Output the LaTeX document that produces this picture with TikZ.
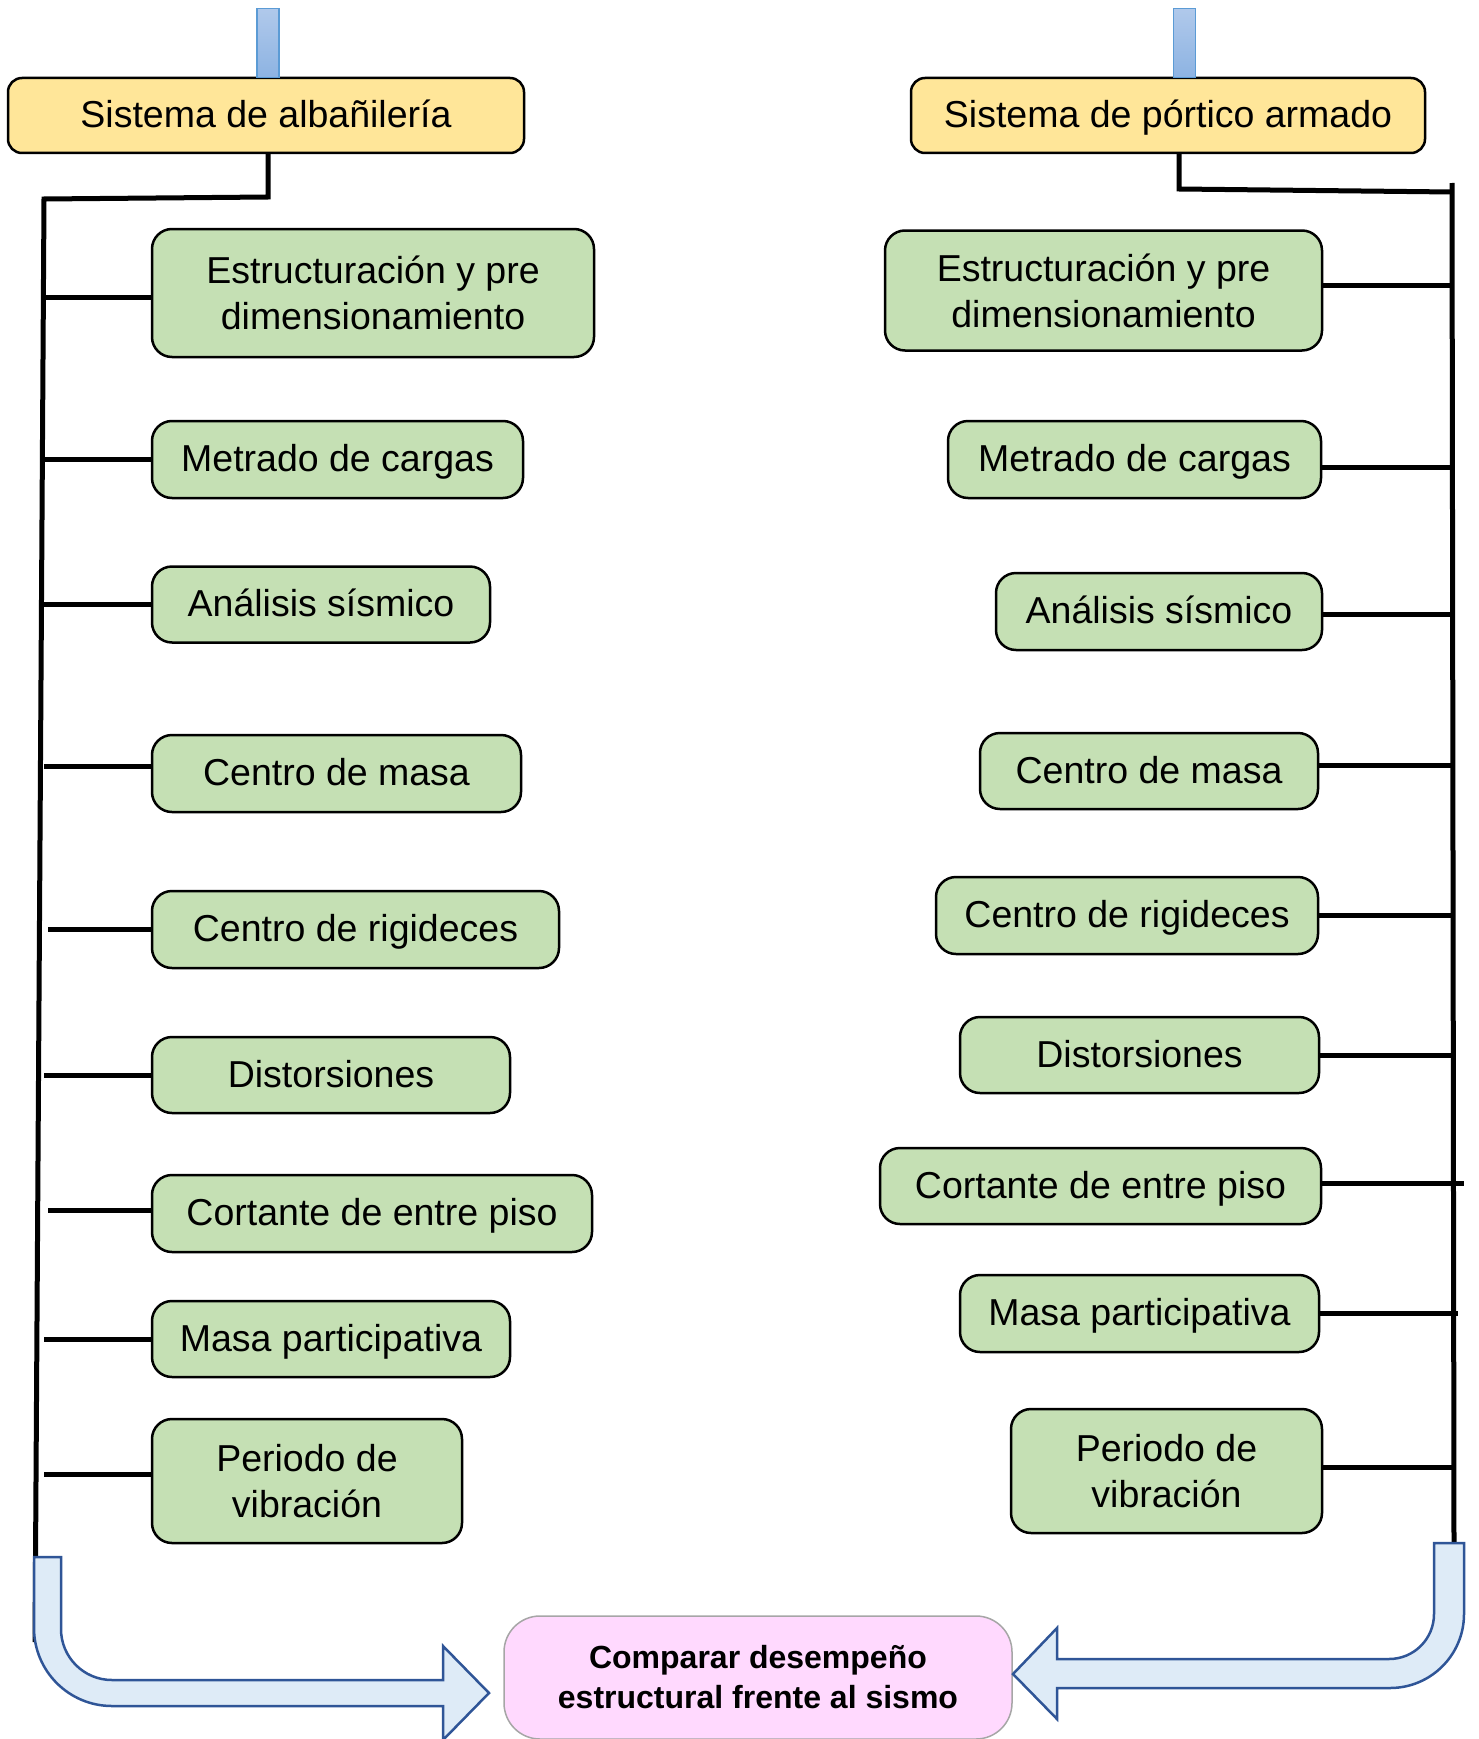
\documentclass[tikz,border=0pt]{standalone}
\usepackage{fontspec}
\setmainfont{Liberation Sans}
\usetikzlibrary{calc}

\definecolor{boxgreen}{HTML}{C5E0B4}
\definecolor{headyellow}{HTML}{FFE699}
\definecolor{goalfill}{HTML}{FFD9FE}
\definecolor{goalborder}{HTML}{A6A6A6}
\definecolor{arrowfill}{HTML}{DEEBF7}
\definecolor{arrowedge}{RGB}{47,85,151}
\definecolor{bartop}{HTML}{B0C9EB}
\definecolor{barbottom}{HTML}{8DB3E2}
\definecolor{barborder}{HTML}{5B9BD5}

\begin{document}
\begin{tikzpicture}[x=1pt,y=-1pt,
  stepbox/.style={draw=black, line width=2.5pt, rounded corners=20pt, fill=boxgreen,
    align=center, inner sep=0pt, font=\fontsize{37.5}{46}\selectfont},
  oneline/.style={text height=31pt, text depth=6.5pt},
  headbox/.style={draw=black, line width=2.5pt, rounded corners=14pt, fill=headyellow,
    align=center, inner sep=0pt, font=\fontsize{37.5}{46}\selectfont, oneline},
  goalbox/.style={draw=goalborder, line width=1.5pt, rounded corners=36pt, fill=goalfill,
    align=center, inner sep=0pt, font=\bfseries\fontsize{32}{40}\selectfont},
  feed/.style={draw=barborder, line width=1.2pt, top color=bartop, bottom color=barbottom,
    inner sep=0pt, anchor=south, minimum width=22pt, minimum height=69pt},
  wire/.style={line width=5pt},
  bent/.style={draw=arrowedge, line width=2.5pt, fill=arrowfill, line join=miter}]

\useasboundingbox (0,0) rectangle (1478,1739);

% ---------- headers ----------
\node[headbox, minimum width=516pt, minimum height=75pt] (yL) at (266,115.5) {Sistema de albañilería};
\node[headbox, minimum width=514pt, minimum height=75pt] (yR) at (1168,115.5) {Sistema de pórtico armado};
\node[feed] (fL) at (268,78) {};
\node[feed] (fR) at (1184.5,78) {};

% ---------- left column ----------
\node[stepbox, minimum width=442pt, minimum height=128pt] (L1) at (373,293) {Estructuración y pre\\dimensionamiento};
\node[stepbox, oneline, minimum width=371pt, minimum height=77pt] (L2) at (337.5,459.5) {Metrado de cargas};
\node[stepbox, oneline, minimum width=338pt, minimum height=76pt] (L3) at (321,604.5) {Análisis sísmico};
\node[stepbox, oneline, minimum width=369pt, minimum height=77pt] (L4) at (336.5,773.5) {Centro de masa};
\node[stepbox, oneline, minimum width=407pt, minimum height=77pt] (L5) at (355.5,929.5) {Centro de rigideces};
\node[stepbox, oneline, minimum width=358pt, minimum height=76pt] (L6) at (331,1075) {Distorsiones};
\node[stepbox, oneline, minimum width=440pt, minimum height=77pt] (L7) at (372,1213.5) {Cortante de entre piso};
\node[stepbox, oneline, minimum width=358pt, minimum height=76pt] (L8) at (331,1339) {Masa participativa};
\node[stepbox, minimum width=310pt, minimum height=124pt] (L9) at (307,1481) {Periodo de\\vibración};

% ---------- right column ----------
\node[stepbox, minimum width=437pt, minimum height=120pt] (R1) at (1103.5,290.5) {Estructuración y pre\\dimensionamiento};
\node[stepbox, oneline, minimum width=373pt, minimum height=77pt] (R2) at (1134.5,459.5) {Metrado de cargas};
\node[stepbox, oneline, minimum width=326pt, minimum height=77pt] (R3) at (1159,611.5) {Análisis sísmico};
\node[stepbox, oneline, minimum width=338pt, minimum height=76pt] (R4) at (1149,771) {Centro de masa};
\node[stepbox, oneline, minimum width=382pt, minimum height=77pt] (R5) at (1127,915.5) {Centro de rigideces};
\node[stepbox, oneline, minimum width=359pt, minimum height=76pt] (R6) at (1139.5,1055) {Distorsiones};
\node[stepbox, oneline, minimum width=441pt, minimum height=76pt] (R7) at (1100.5,1186) {Cortante de entre piso};
\node[stepbox, oneline, minimum width=359pt, minimum height=77pt] (R8) at (1139.5,1313.5) {Masa participativa};
\node[stepbox, minimum width=311pt, minimum height=124pt] (R9) at (1166.5,1471) {Periodo de\\vibración};

% ---------- goal ----------
\node[goalbox, minimum width=508pt, minimum height=123pt] (goal) at (758,1677.5) {Comparar desempeño\\estructural frente al sismo};

% ---------- spines ----------
\coordinate (kL) at (268,197);
\coordinate (sLt) at (44,199);
\coordinate (sLb) at (35,1642);
\coordinate (kR) at (1179,189);
\coordinate (jR) at (1452,192);
\coordinate (sRt) at (1452,183);
\coordinate (sRb) at (1454,1547);

\draw[wire] (yL.south -| kL) -- (kL) -- (sLt) -- (sLb);
\draw[wire] (yR.south -| kR) -- (kR) -- (jR);
\draw[wire] (sRt) -- (sRb);

% left ties
\draw[wire] ([yshift=-4pt]L1.west) -- ([yshift=-4pt]L1.west -| sLt);
\draw[wire] (L2.west) -- (L2.west -| sLt);
\draw[wire] (L3.west) -- (L3.west -| sLt);
\draw[wire] ([yshift=7.5pt]L4.west) -- ([yshift=7.5pt]L4.west -| sLt);
\draw[wire] (L5.west) -- ($(L5.west -| sLt)+(4,0)$);
\draw[wire] (L6.west) -- (L6.west -| sLt);
\draw[wire] ([yshift=3pt]L7.west) -- ($([yshift=3pt]L7.west -| sLt)+(4,0)$);
\draw[wire] (L8.west) -- (L8.west -| sLt);
\draw[wire] ([yshift=7pt]L9.west) -- ([yshift=7pt]L9.west -| sLt);

% right ties
\draw[wire] ([yshift=5.5pt]R1.east) -- ([yshift=5.5pt]R1.east -| sRt);
\draw[wire] ([yshift=-7.5pt]R2.east) -- ([yshift=-7.5pt]R2.east -| sRt);
\draw[wire] ([yshift=-3pt]R3.east) -- ([yshift=-3pt]R3.east -| sRt);
\draw[wire] ([yshift=6pt]R4.east) -- ([yshift=6pt]R4.east -| sRt);
\draw[wire] (R5.east) -- (R5.east -| sRt);
\draw[wire] (R6.east) -- (R6.east -| sRt);
\draw[wire] ([yshift=3pt]R7.east) -- ($([yshift=3pt]R7.east -| sRt)+(12,0)$);
\draw[wire] (R8.east) -- ($(R8.east -| sRt)+(6,0)$);
\draw[wire] ([yshift=4pt]R9.east) -- ([yshift=4pt]R9.east -| sRt);

% ---------- bent block arrows ----------
\path[bent] (34,1557) -- (34,1628)
  .. controls (34,1671.1) and (68.9,1706) .. (112,1706)
  -- (443,1706) -- (443,1740) -- (489,1693) -- (443,1646) -- (443,1680)
  -- (112,1680)
  .. controls (83.8,1680) and (61,1657.2) .. (61,1629)
  -- (61,1557) -- cycle;

\path[bent] (1434,1543) -- (1434,1614)
  .. controls (1434,1638.9) and (1413.9,1659) .. (1389,1659)
  -- (1057,1659) -- (1057,1628) -- (1013,1674) -- (1057,1719) -- (1057,1688)
  -- (1390,1688)
  .. controls (1430.9,1688) and (1464,1654.9) .. (1464,1614)
  -- (1464,1543) -- cycle;

\end{tikzpicture}
\end{document}
